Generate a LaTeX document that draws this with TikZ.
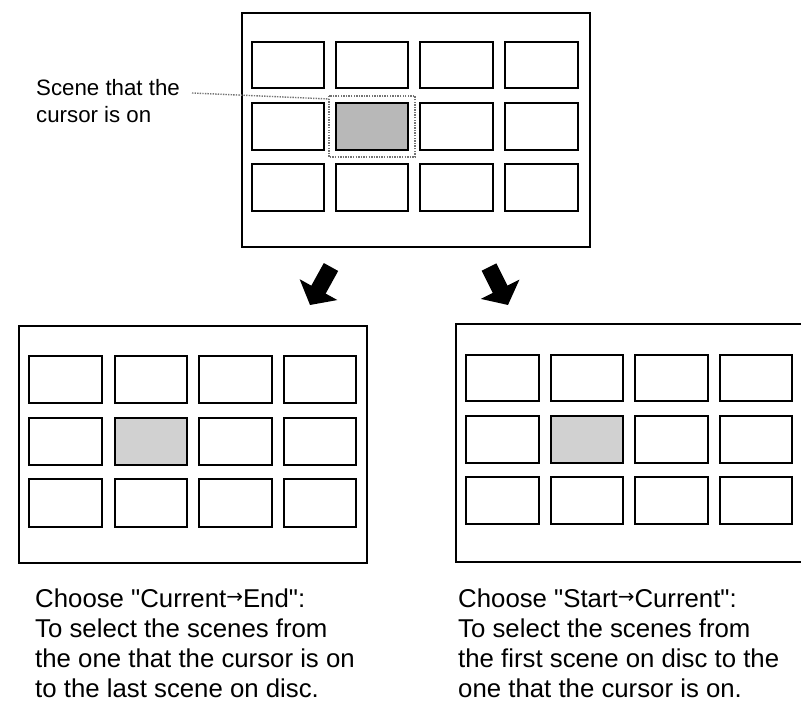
\documentclass[tikz,border=0pt]{standalone}
\usepackage{fontspec}
\setmainfont{Liberation Sans}
\newfontfamily\arrowfont{DejaVu Sans}
\usetikzlibrary{arrows.meta}
\newcommand{\toarr}{{\arrowfont\fontsize{17}{17}\selectfont\raisebox{0.2em}{→}}}

\begin{document}
\begin{tikzpicture}[x=0.03cm, y=-0.03cm,
  screen/.style={line width=1.5pt},
  scene/.style={line width=2pt},
  shade/.style={fill=black!28},
  lightshade/.style={fill=black!18},
  cursorline/.style={black!55, densely dotted, line width=1.2pt},
  bigarrow/.style={line width=14pt, -{Triangle[width=36pt,length=15pt]}},
  caption/.style={anchor=north west, inner sep=0, align=left}]
\useasboundingbox (0,0) rectangle (801,707);
% top screen
\draw[screen] (242,13) rectangle (590,247);
\draw[scene] (252,42) rectangle (324,88);
\draw[scene] (336,42) rectangle (408,88);
\draw[scene] (420,42) rectangle (493,88);
\draw[scene] (505,42) rectangle (578,88);
\draw[scene] (252,103) rectangle (324,150);
\draw[scene, shade] (336,103) rectangle (408,150);
\draw[scene] (420,103) rectangle (493,150);
\draw[scene] (505,103) rectangle (578,150);
\draw[scene] (252,164) rectangle (324,211);
\draw[scene] (336,164) rectangle (408,211);
\draw[scene] (420,164) rectangle (493,211);
\draw[scene] (505,164) rectangle (578,211);
\coordinate (cursorbox) at (329,96);
\coordinate (boxside) at (329,99);
\draw[cursorline] (cursorbox) rectangle (415,157);
\node[caption, font=\fontsize{19}{23}\selectfont] (cursorlabel) at (36,79) {Scene that the\\cursor is on};
\coordinate (leadstart) at (192,93);
\draw[cursorline] (leadstart) -- (boxside);
% arrows
\coordinate (leftfrom) at (331,267);
\coordinate (leftto) at (310,305);
\coordinate (rightfrom) at (489,267);
\coordinate (rightto) at (508,305);
\draw[bigarrow] (leftfrom) -- (leftto);
\draw[bigarrow] (rightfrom) -- (rightto);
% bottom left screen
\draw[screen] (19,326) rectangle (367,563);
\draw[scene] (29,356) rectangle (102,403);
\draw[scene] (115,356) rectangle (187,403);
\draw[scene] (199,356) rectangle (272,403);
\draw[scene] (284,356) rectangle (356,403);
\draw[scene] (29,418) rectangle (102,465);
\draw[scene, lightshade] (115,418) rectangle (187,465);
\draw[scene] (199,418) rectangle (272,465);
\draw[scene] (284,418) rectangle (356,465);
\draw[scene] (29,479) rectangle (102,527);
\draw[scene] (115,479) rectangle (187,527);
\draw[scene] (199,479) rectangle (272,527);
\draw[scene] (284,479) rectangle (356,527);
\node[caption, font=\fontsize{22}{25.6}\selectfont] (endtext) at (35,589)
  {Choose \textquotedbl Current\toarr End\textquotedbl:\\To select the scenes from\\the one that the cursor is on\\to the last scene on disc.};
% bottom right screen
\draw[screen] (456,324) rectangle (812,562);
\draw[scene] (466,355) rectangle (539,401);
\draw[scene] (551,355) rectangle (623,401);
\draw[scene] (635,355) rectangle (708,401);
\draw[scene] (720,355) rectangle (792,401);
\draw[scene] (466,416) rectangle (539,463);
\draw[scene, lightshade] (551,416) rectangle (623,463);
\draw[scene] (635,416) rectangle (708,463);
\draw[scene] (720,416) rectangle (792,463);
\draw[scene] (466,477) rectangle (539,524);
\draw[scene] (551,477) rectangle (623,524);
\draw[scene] (635,477) rectangle (708,524);
\draw[scene] (720,477) rectangle (792,524);
\node[caption, font=\fontsize{22}{25.6}\selectfont] (starttext) at (458,589)
  {Choose \textquotedbl Start\toarr Current\textquotedbl:\\To select the scenes from\\the first scene on disc to the\\one that the cursor is on.};
\end{tikzpicture}
\end{document}
